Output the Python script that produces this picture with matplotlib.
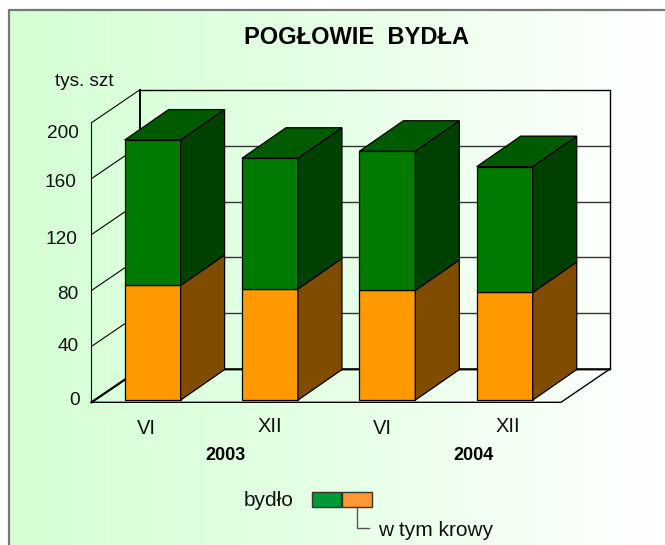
import numpy as np
import matplotlib
matplotlib.use('Agg')
import matplotlib.pyplot as plt
from matplotlib.colors import LinearSegmentedColormap

plt.rcParams['font.family'] = ['Liberation Sans', 'DejaVu Sans']

# data (thousand head)
months = ['VI', 'XII', 'VI', 'XII']
years = ['2003', '2004']
bydlo = [186, 173, 178, 167]
krowy = [82, 79.5, 78.5, 77]
ticks = [0, 40, 80, 120, 160, 200]

W, H = 665, 545
fig = plt.figure(figsize=(W / 100, H / 100), dpi=100, facecolor='white')

# gradient background, light green to white
bg = fig.add_axes([0, 0, 1, 1], zorder=0)
cmap = LinearSegmentedColormap.from_list('bg', [(0, '#d5ffd5'), (0.45, '#e4ffe4'), (1, '#ffffff')])
bg.imshow(np.linspace(0, 1, 256).reshape(1, -1), aspect='auto', cmap=cmap,
          extent=[9, W, H, 10], zorder=0)
bg.set_xlim(0, W)
bg.set_ylim(H, 0)
bg.axis('off')
bg.plot([9, 9, W], [H, 10, 10], color='#777777', lw=1.6, zorder=1)

# front plane of the chart: x = category, y = value
L, R, T, B = 91.5, 561, 122.7, 402.3
ax = fig.add_axes([L / W, 1 - B / H, (R - L) / W, (B - T) / H], zorder=1)
ax.patch.set_alpha(0)
ax.set_xlim(-0.5, 3.5)
ax.set_ylim(0, 200)
ax.axis('off')

px = 4 / (R - L)    # one pixel in category units
py = 200 / (B - T)  # one pixel in value units
wall_dx, wall_dy = 48.5 * px, 33 * py
bar_dx, bar_dy = 44 * px, 30.5 * py
off_x, off_y = 2.4 * px, 2.2 * py
bar_w = 56 * px

xl, xr = -0.5, 3.5

# back wall and grid
for t in ticks[1:-1]:
    ax.plot([xl, xl + wall_dx], [t, t + wall_dy], color='black', lw=0.8, clip_on=False, zorder=1)
    ax.plot([xl + wall_dx, xr + wall_dx], [t + wall_dy, t + wall_dy], color='#333333', lw=1,
            clip_on=False, zorder=1)
ax.plot([xl + wall_dx, xr + wall_dx, xr + wall_dx], [200 + wall_dy, 200 + wall_dy, wall_dy],
        color='black', lw=1, clip_on=False, zorder=1)
ax.plot([xl, xl, xl + wall_dx], [0, 200, 200 + wall_dy], color='black', lw=0.8, clip_on=False, zorder=1)
ax.plot([xl + wall_dx, xl + wall_dx], [wall_dy, 200 + wall_dy], color='black', lw=1.4, clip_on=False, zorder=1)
ax.plot([xl, xl + wall_dx, xr + wall_dx], [0, wall_dy, wall_dy], color='black', lw=1.6, clip_on=False, zorder=1)
ax.plot([xl, xr, xr + wall_dx], [0, 0, wall_dy], color='black', lw=1, clip_on=False, zorder=1)

# bars
edge = dict(edgecolor='black', linewidth=0.9, clip_on=False, zorder=3)
for i in range(len(months)):
    x0 = i + off_x - bar_w / 2
    x1 = x0 + bar_w
    k, b = krowy[i] + off_y, bydlo[i] + off_y
    ax.bar(x0, krowy[i], bar_w, bottom=off_y, align='edge', color='#ff9900', **edge)
    ax.bar(x0, bydlo[i] - krowy[i], bar_w, bottom=k, align='edge', color='#007a00', **edge)
    ax.fill([x1, x1 + bar_dx, x1 + bar_dx, x1], [off_y, off_y + bar_dy, k + bar_dy, k],
            color='#804d00', **edge)
    ax.fill([x1, x1 + bar_dx, x1 + bar_dx, x1], [k, k + bar_dy, b + bar_dy, b],
            color='#004000', **edge)
    ax.fill([x0, x1, x1 + bar_dx, x0 + bar_dx], [b, b, b + bar_dy, b + bar_dy],
            color='#005a00', **edge)

# texts and legend, pixel coordinates on the background axes
bg.text(356, 37.5, 'POGŁOWIE  BYDŁA', ha='center', va='center', fontsize=17, fontweight='bold',
        color='black', zorder=5)
bg.text(84, 81.5, 'tys. szt', ha='center', va='center', fontsize=13.7, color='#111111', zorder=5)

tick_x = [80, 79, 78, 77, 76, 79]
tick_y = [400.5, 346.5, 294.5, 239.5, 182.5, 133.5]
for t, tx, ty in zip(ticks, tick_x, tick_y):
    bg.text(tx, ty, str(t), ha='right', va='center', fontsize=13.7, color='#111111', zorder=5)

month_x = [146, 270, 382, 508]
month_y = [428, 426, 429, 427]
for m, tx, ty in zip(months, month_x, month_y):
    bg.text(tx, ty, m, ha='center', va='center', fontsize=14.5, color='#111111', zorder=5)

for yr, tx in zip(years, [225, 473]):
    bg.text(tx, 455, yr, ha='center', va='center', fontsize=13, fontweight='bold',
            color='black', zorder=5)

bg.text(269, 501, 'bydło', ha='center', va='center', fontsize=15, color='#111111', zorder=5)
bg.fill([311.5, 341, 341, 311.5], [491.5, 491.5, 507, 507], facecolor='#009933', edgecolor='#333333', lw=1, zorder=5)
bg.fill([342, 372, 372, 342], [491.5, 491.5, 507, 507], facecolor='#ff9933', edgecolor='#333333', lw=1, zorder=5)
bg.plot([357, 357, 369], [507, 528, 528], color='#555555', lw=1, zorder=5)
bg.text(378, 530, 'w tym krowy', ha='left', va='center', fontsize=15, color='#111111', zorder=5)

fig.savefig('out.png', dpi=100)
